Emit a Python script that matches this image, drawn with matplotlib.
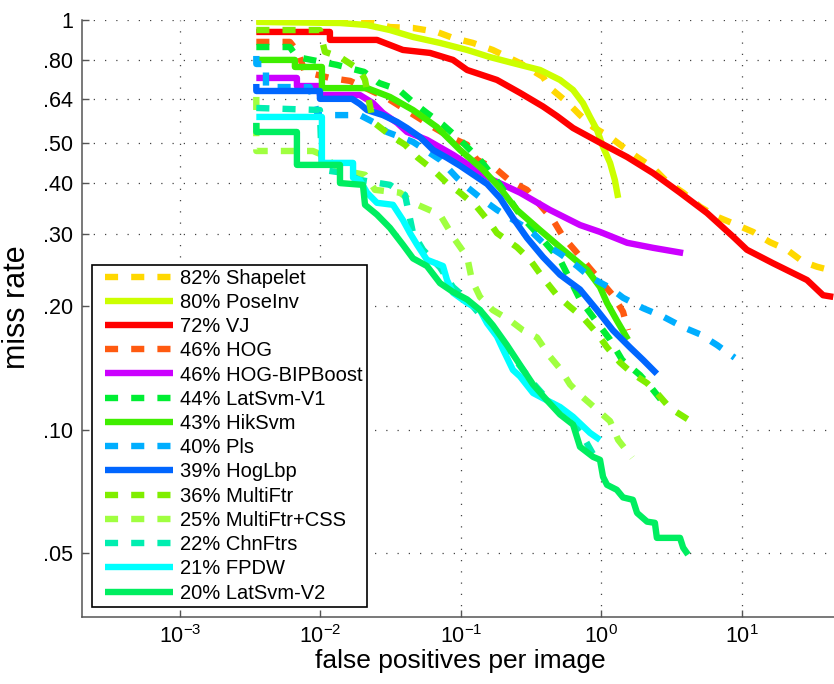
import matplotlib
matplotlib.use("Agg")
import matplotlib.pyplot as plt
from matplotlib.ticker import NullLocator
from matplotlib.lines import Line2D
from matplotlib.legend_handler import HandlerLine2D

plt.rcParams['font.family'] = ['Liberation Sans', 'DejaVu Sans']
plt.rcParams['mathtext.fontset'] = 'custom'
plt.rcParams['mathtext.rm'] = 'Liberation Sans'
plt.rcParams['mathtext.it'] = 'Liberation Sans'

# ---- data (fppi, miss rate) ----
shapelet_fppi = [0.0035, 0.0225, 0.0313, 0.0457, 0.0676, 0.088, 0.122, 0.169, 0.264, 0.385, 0.431, 0.57, 0.706,
                 0.875, 1.156, 1.43, 1.8, 2.34, 2.94, 3.83, 5.06, 6.68, 9.27, 12.05, 15.9, 21.0, 27.4, 34.4, 41.2]
shapelet_miss = [0.994, 0.989, 0.961, 0.956, 0.935, 0.904, 0.879, 0.845, 0.785, 0.726, 0.683, 0.631, 0.586,
                 0.548, 0.518, 0.49, 0.463, 0.436, 0.403, 0.379, 0.35, 0.331, 0.316, 0.304, 0.287, 0.275, 0.257, 0.25, 0.246]

poseinv_fppi = [0.0035, 0.0138, 0.0215, 0.0313, 0.0457, 0.0711, 0.111, 0.161, 0.235, 0.367, 0.509, 0.63, 0.741,
                0.832, 0.933, 1.03, 1.156, 1.25, 1.32]
poseinv_miss = [0.989, 0.983, 0.972, 0.945, 0.909, 0.879, 0.845, 0.812, 0.785, 0.755, 0.714, 0.675, 0.627,
                0.58, 0.539, 0.49, 0.448, 0.407, 0.368]

vj_fppi = [0.0035, 0.0117, 0.0117, 0.0253, 0.0387, 0.0604, 0.088, 0.111, 0.181, 0.264, 0.385, 0.484, 0.63,
           1.0, 1.53, 2.34, 3.64, 5.67, 8.69, 10.9, 16.7, 29.2, 38.0, 44.9]
vj_miss = [0.935, 0.935, 0.894, 0.894, 0.845, 0.831, 0.799, 0.755, 0.714, 0.664, 0.615, 0.583, 0.545,
           0.50, 0.463, 0.423, 0.379, 0.338, 0.296, 0.275, 0.255, 0.232, 0.213, 0.211]

hog_fppi = [0.0035, 0.00607, 0.00692, 0.00776, 0.0117, 0.0163, 0.0298, 0.0488, 0.0634, 0.0838, 0.111, 0.13,
            0.181, 0.224, 0.296, 0.454, 0.535, 0.662, 0.819, 1.21, 1.43, 1.55]
hog_miss = [0.884, 0.884, 0.836, 0.747, 0.722, 0.71, 0.645, 0.58, 0.548, 0.518, 0.496, 0.456,
            0.431, 0.405, 0.385, 0.325, 0.296, 0.272, 0.249, 0.213, 0.194, 0.175]

bip_fppi = [0.0035, 0.00681, 0.00681, 0.00993, 0.00993, 0.0191, 0.0237, 0.0279, 0.0352, 0.0414, 0.0574, 0.088,
            0.122, 0.169, 0.264, 0.431, 0.706, 0.98, 1.53, 2.34, 3.83]
bip_miss = [0.722, 0.722, 0.69, 0.69, 0.656, 0.656, 0.627, 0.593, 0.561, 0.533, 0.51, 0.469,
            0.436, 0.407, 0.379, 0.344, 0.316, 0.304, 0.286, 0.278, 0.27]

latv1_fppi = [0.0035, 0.00607, 0.00681, 0.0131, 0.0205, 0.0261, 0.0363, 0.0465, 0.0574, 0.0747, 0.0987, 0.137,
              0.19, 0.264, 0.367, 0.509, 0.706, 0.933, 1.156, 1.41, 1.89, 2.26, 2.85]
latv1_miss = [0.859, 0.859, 0.812, 0.777, 0.747, 0.702, 0.675, 0.627, 0.593, 0.555, 0.51, 0.456,
              0.396, 0.335, 0.296, 0.26, 0.208, 0.183, 0.166, 0.148, 0.136, 0.127, 0.115]

hik_fppi = [0.0035, 0.00659, 0.00659, 0.01026, 0.01026, 0.0215, 0.0313, 0.0457, 0.0676, 0.0987, 0.144, 0.19,
            0.251, 0.367, 0.535, 0.792, 0.98, 1.1, 1.29, 1.55]
hik_miss = [0.799, 0.799, 0.768, 0.768, 0.682, 0.682, 0.649, 0.603, 0.548, 0.482, 0.431, 0.389,
            0.344, 0.307, 0.275, 0.246, 0.223, 0.204, 0.185, 0.166]

pls_fppi = [0.0035, 0.0035, 0.0041, 0.0041, 0.0084, 0.0096, 0.0191, 0.0237, 0.0298, 0.0457, 0.0711, 0.0939,
            0.111, 0.144, 0.181, 0.311, 0.385, 0.509, 0.673, 0.832, 1.156, 1.43, 1.99, 2.75, 3.83, 5.06, 6.68, 8.9]
pls_miss = [0.817, 0.781, 0.781, 0.686, 0.686, 0.586, 0.586, 0.564, 0.533, 0.504, 0.456, 0.412,
            0.391, 0.364, 0.344, 0.307, 0.286, 0.269, 0.251, 0.236, 0.222, 0.21, 0.198, 0.189, 0.178, 0.171, 0.161, 0.150]

hoglbp_fppi = [0.0035, 0.0035, 0.00993, 0.00993, 0.0168, 0.0191, 0.0215, 0.0279, 0.0352, 0.0414, 0.0512, 0.0634,
               0.0798, 0.0987, 0.154, 0.19, 0.235, 0.296, 0.385, 0.509, 0.706, 0.933, 1.21, 1.6, 1.99, 2.49]
hoglbp_miss = [0.698, 0.671, 0.671, 0.642, 0.642, 0.624, 0.603, 0.586, 0.564, 0.545, 0.518, 0.482,
               0.461, 0.441, 0.398, 0.368, 0.329, 0.294, 0.264, 0.239, 0.22, 0.196, 0.175, 0.159, 0.148, 0.137]

multi_fppi = [0.0035, 0.00993, 0.01026, 0.01078, 0.0138, 0.0191, 0.0208, 0.0237, 0.0313, 0.0401, 0.0495, 0.0634,
              0.0798, 0.0987, 0.13, 0.161, 0.181, 0.251, 0.311, 0.385, 0.484, 0.6, 0.741, 0.933, 1.1, 1.36,
              1.68, 2.12, 2.49, 3.09, 4.15]
multi_miss = [0.945, 0.945, 0.894, 0.836, 0.812, 0.755, 0.714, 0.564, 0.524, 0.496, 0.461, 0.431,
              0.4, 0.379, 0.35, 0.32, 0.302, 0.279, 0.26, 0.235, 0.213, 0.1995, 0.188, 0.172, 0.159, 0.146,
              0.137, 0.13, 0.123, 0.113, 0.106]

multicss_fppi = [0.0035, 0.0035, 0.00885, 0.01026, 0.0138, 0.0208, 0.0245, 0.0369, 0.0457, 0.0711, 0.0909, 0.111,
                 0.12, 0.137, 0.169, 0.224, 0.277, 0.349, 0.431, 0.509, 0.6, 0.741, 0.933, 1.156, 1.32, 1.66]
multicss_miss = [0.649, 0.479, 0.479, 0.469, 0.431, 0.419, 0.385, 0.379, 0.358, 0.335, 0.291, 0.264,
                 0.232, 0.211, 0.196, 0.185, 0.175, 0.168, 0.151, 0.141, 0.129, 0.12, 0.112, 0.105, 0.0945, 0.0855]

chn_fppi = [0.0035, 0.00993, 0.01026, 0.015, 0.0191, 0.0313, 0.0401, 0.0457, 0.0538, 0.0711, 0.088, 0.111,
            0.137, 0.169, 0.235, 0.277, 0.327, 0.411, 0.509, 0.63, 0.767, 0.904]
chn_miss = [0.61, 0.603, 0.431, 0.423, 0.407, 0.396, 0.374, 0.302, 0.275, 0.249, 0.223, 0.208,
            0.191, 0.178, 0.151, 0.14, 0.13, 0.119, 0.112, 0.104, 0.0945, 0.0855]

fpdw_fppi = [0.0035, 0.01026, 0.01026, 0.0171, 0.0171, 0.0191, 0.0215, 0.0253, 0.0329, 0.0387, 0.0435, 0.0488,
             0.0574, 0.0747, 0.0798, 0.088, 0.111, 0.137, 0.154, 0.181, 0.2, 0.235, 0.264, 0.327, 0.411, 0.509,
             0.63, 0.832, 0.98]
fpdw_miss = [0.58, 0.58, 0.448, 0.448, 0.412, 0.407, 0.379, 0.358, 0.354, 0.325, 0.302, 0.283,
             0.26, 0.251, 0.232, 0.216, 0.204, 0.196, 0.182, 0.169, 0.157, 0.14, 0.135, 0.123, 0.118, 0.1137,
             0.1076, 0.0983, 0.0945]

latv2_fppi = [0.0035, 0.0035, 0.00681, 0.00681, 0.0138, 0.0138, 0.0201, 0.0208, 0.0253, 0.0313, 0.0387, 0.0457,
              0.0574, 0.0711, 0.088, 0.111, 0.137, 0.169, 0.213, 0.264, 0.327, 0.411, 0.509, 0.63, 0.706, 0.875,
              0.98, 1.03, 1.1, 1.29, 1.43, 1.68, 1.8, 2.12, 2.41, 2.49, 3.64, 3.83, 4.15]
latv2_miss = [0.561, 0.533, 0.533, 0.443, 0.443, 0.4, 0.396, 0.354, 0.335, 0.311, 0.283, 0.262,
              0.251, 0.228, 0.217, 0.208, 0.196, 0.18, 0.161, 0.144, 0.129, 0.118, 0.109, 0.103, 0.0909, 0.0859,
              0.0845, 0.0768, 0.0734, 0.0714, 0.0684, 0.0675, 0.0627, 0.0597, 0.0593, 0.0545, 0.0545, 0.0516, 0.0496]

labels = ["82% Shapelet", "80% PoseInv", "72% VJ", "46% HOG", "46% HOG-BIPBoost", "44% LatSvm-V1",
          "43% HikSvm", "40% Pls", "39% HogLbp", "36% MultiFtr", "25% MultiFtr+CSS", "22% ChnFtrs",
          "21% FPDW", "20% LatSvm-V2"]
colors = ["#FFD800", "#CCFF00", "#FF0000", "#FF5A10", "#CC00FF", "#00EE33", "#3FEE00", "#00AEFF",
          "#0066FF", "#80EE00", "#A0FF40", "#00EEB0", "#00FFFF", "#00EE60"]
dashed = [True, False, False, True, False, True, False, True, False, True, True, True, False, False]

curves = [(shapelet_fppi, shapelet_miss), (poseinv_fppi, poseinv_miss), (vj_fppi, vj_miss),
          (hog_fppi, hog_miss), (bip_fppi, bip_miss), (latv1_fppi, latv1_miss), (hik_fppi, hik_miss),
          (pls_fppi, pls_miss), (hoglbp_fppi, hoglbp_miss), (multi_fppi, multi_miss),
          (multicss_fppi, multicss_miss), (chn_fppi, chn_miss), (fpdw_fppi, fpdw_miss), (latv2_fppi, latv2_miss)]

fig = plt.figure(figsize=(8.34, 6.84), dpi=100)
ax = fig.add_axes([0.098, 0.0984, 0.909, 0.8724])

for (fx, my), lab, col, dsh in zip(curves, labels, colors, dashed):
    if dsh:
        ax.plot(fx, my, color=col, lw=4.6, label=lab, dashes=(2.05, 2.05),
                dash_capstyle='butt', solid_joinstyle='round')
    else:
        ax.plot(fx, my, color=col, lw=4.6, label=lab,
                solid_capstyle='butt', solid_joinstyle='round')

ax.set_xscale('log')
ax.set_yscale('log')
ax.set_xlim(2e-4, 50)
ax.set_ylim(0.035, 1)

ax.set_xticks([1e-3, 1e-2, 1e-1, 1, 10])
ax.set_xticklabels([r'$10^{-3}$', r'$10^{-2}$', r'$10^{-1}$', r'$10^{0}$', r'$10^{1}$'])
ax.set_yticks([0.05, 0.1, 0.2, 0.3, 0.4, 0.5, 0.64, 0.8, 1])
ax.set_yticklabels(['.05', '.10', '.20', '.30', '.40', '.50', '.64', '.80', '1'])
ax.xaxis.set_minor_locator(NullLocator())
ax.yaxis.set_minor_locator(NullLocator())
ax.tick_params(direction='in', length=5, width=1, colors='#555555', labelcolor='black', labelsize=15.5, pad=6)

ax.grid(True, color='#444444', linestyle=(0, (1, 8)), linewidth=0.9)
for s in ['top', 'right']:
    ax.spines[s].set_visible(False)
for s in ['left', 'bottom']:
    ax.spines[s].set_color('#555555')
    ax.spines[s].set_linewidth(1.1)

ax.set_xlabel('false positives per image', fontsize=19, labelpad=1)
ax.set_ylabel('miss rate', fontsize=22)
ax.yaxis.set_label_coords(-0.066, 0.519)

leg = ax.legend(loc='lower left', bbox_to_anchor=(0.0132, 0.0168), borderaxespad=0,
                fontsize=14.5, handlelength=3.84, handletextpad=0.35, labelspacing=0.26,
                borderpad=0.2, fancybox=False, framealpha=1, edgecolor='black',
                handler_map={Line2D: HandlerLine2D(xpad=0.46)})
leg.get_frame().set_linewidth(1.2)

fig.savefig('out.png', dpi=100)
